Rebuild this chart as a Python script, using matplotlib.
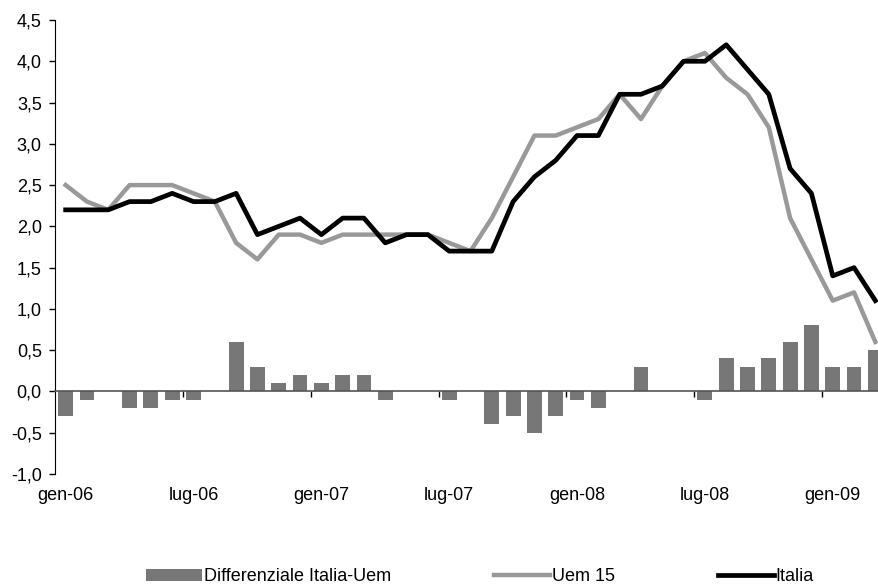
import numpy as np
import matplotlib
matplotlib.use('Agg')
import matplotlib.pyplot as plt
from matplotlib.ticker import FuncFormatter

plt.rcParams['font.family'] = ['Liberation Sans', 'DejaVu Sans']

# Inflazione Italia vs Uem 15 (gen-06 .. mar-09)
mesi = ['gen-06', 'feb-06', 'mar-06', 'apr-06', 'mag-06', 'giu-06', 'lug-06', 'ago-06', 'set-06', 'ott-06', 'nov-06', 'dic-06',
        'gen-07', 'feb-07', 'mar-07', 'apr-07', 'mag-07', 'giu-07', 'lug-07', 'ago-07', 'set-07', 'ott-07', 'nov-07', 'dic-07',
        'gen-08', 'feb-08', 'mar-08', 'apr-08', 'mag-08', 'giu-08', 'lug-08', 'ago-08', 'set-08', 'ott-08', 'nov-08', 'dic-08',
        'gen-09', 'feb-09', 'mar-09']
italia = [2.2, 2.2, 2.2, 2.3, 2.3, 2.4, 2.3, 2.3, 2.4, 1.9, 2.0, 2.1,
          1.9, 2.1, 2.1, 1.8, 1.9, 1.9, 1.7, 1.7, 1.7, 2.3, 2.6, 2.8,
          3.1, 3.1, 3.6, 3.6, 3.7, 4.0, 4.0, 4.2, 3.9, 3.6, 2.7, 2.4,
          1.4, 1.5, 1.1]
uem = [2.5, 2.3, 2.2, 2.5, 2.5, 2.5, 2.4, 2.3, 1.8, 1.6, 1.9, 1.9,
       1.8, 1.9, 1.9, 1.9, 1.9, 1.9, 1.8, 1.7, 2.1, 2.6, 3.1, 3.1,
       3.2, 3.3, 3.6, 3.3, 3.7, 4.0, 4.1, 3.8, 3.6, 3.2, 2.1, 1.6,
       1.1, 1.2, 0.6]
differenziale = [-0.3, -0.1, 0.0, -0.2, -0.2, -0.1, -0.1, 0.0, 0.6, 0.3, 0.1, 0.2,
                 0.1, 0.2, 0.2, -0.1, 0.0, 0.0, -0.1, 0.0, -0.4, -0.3, -0.5, -0.3,
                 -0.1, -0.2, 0.0, 0.3, 0.0, 0.0, -0.1, 0.4, 0.3, 0.4, 0.6, 0.8,
                 0.3, 0.3, 0.5]

x = np.arange(len(mesi))

fig = plt.figure(figsize=(8.79, 5.88), dpi=100)
ax = fig.add_axes([55 / 879, 114 / 588, 831 / 879, 454 / 588])

ax.bar(x, differenziale, width=0.7, color='#777777', zorder=1, label='Differenziale Italia-Uem')
ax.plot(x, uem, color='#999999', linewidth=3.2, zorder=3, label='Uem 15')
ax.plot(x, italia, color='black', linewidth=3.4, zorder=4, label='Italia')

ax.set_xlim(-0.5, len(mesi) - 0.5)
ax.set_ylim(-1.0, 4.5)
ax.set_yticks(np.arange(-1.0, 4.51, 0.5))
ax.yaxis.set_major_formatter(FuncFormatter(lambda v, p: f'{v:.1f}'.replace('.', ',')))
ax.tick_params(axis='y', direction='out', length=4.5, width=1, pad=5, labelsize=13)

# asse orizzontale sullo zero, con tacche tra le categorie
for s in ['top', 'right']:
    ax.spines[s].set_visible(False)
ax.spines['bottom'].set_position(('data', 0))
ax.spines['bottom'].set_color('#555555')
ax.spines['bottom'].set_linewidth(1.2)
ax.set_xticks(np.arange(5.5, len(mesi), 6))
ax.tick_params(axis='x', direction='out', length=4, width=1, labelbottom=False)

# etichette dei mesi in basso
sec = ax.secondary_xaxis(0)
sec.set_xticks(x[::6])
sec.set_xticklabels(mesi[::6])
sec.tick_params(length=0, pad=9, labelsize=13)
sec.spines['bottom'].set_visible(False)

h, l = ax.get_legend_handles_labels()
order = [2, 0, 1]
fig.legend([h[i] for i in order], [l[i] for i in order], loc='center', bbox_to_anchor=(0.546, 0.019),
           ncol=3, frameon=False, fontsize=13, handlelength=3.1, handletextpad=0.1, columnspacing=5.7)

fig.savefig('out.png', dpi=100)
